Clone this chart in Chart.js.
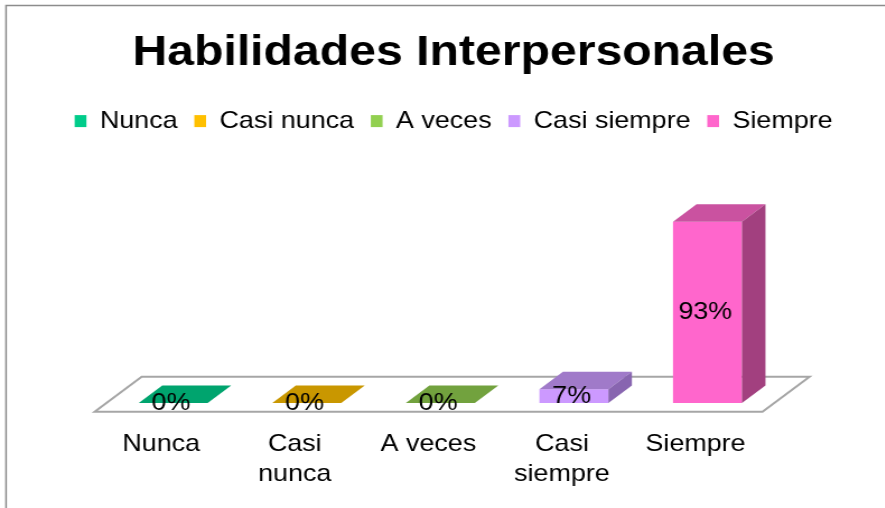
<!DOCTYPE html>
<html>
<head>
<meta charset="utf-8">
<title>Habilidades Interpersonales</title>
<script src="https://cdn.jsdelivr.net/npm/chart.js@4.4.1/dist/chart.umd.min.js"></script>
<style>
  html, body { margin: 0; padding: 0; background: #fff; }
  /* the original picture is stretched sideways a little, so do the same */
  #wrap { width: 790px; height: 508px; transform: scaleX(1.12); transform-origin: 0 0; }
</style>
</head>
<body>
<div id="wrap"><canvas id="chart"></canvas></div>
<script>
const categories = ['Nunca', 'Casi nunca', 'A veces', 'Casi siempre', 'Siempre'];
const tickLabels = [['Nunca'], ['Casi', 'nunca'], ['A veces'], ['Casi', 'siempre'], ['Siempre']];
const percentages = [0, 0, 0, 7, 93];

const frontColors = ['#00CC8A', '#FFC000', '#92D050', '#CC99FF', '#FF66CC'];
const topColors = ['#00A46E', '#C99700', '#72A23E', '#A07AC9', '#CA52A0'];
const sideColors = ['#008A5C', '#A67C00', '#5E8833', '#8865B0', '#A2407F'];

const FONT = "'Liberation Sans', Arial, sans-serif";
// 3d depth of a bar (floor is twice as deep)
const DX = 21;
const DY = -17.5;

function poly(ctx, pts) {
    ctx.beginPath();
    ctx.moveTo(pts[0][0], pts[0][1]);
    for (let k = 1; k < pts.length; k++) ctx.lineTo(pts[k][0], pts[k][1]);
    ctx.closePath();
    ctx.fill();
}

const frame = {
    id: 'frame',
    beforeDraw(chart) {
        const ctx = chart.ctx;
        ctx.save();
        ctx.fillStyle = '#fff';
        ctx.fillRect(0, 0, chart.width, chart.height);
        ctx.strokeStyle = '#8c8c8c';
        ctx.lineWidth = 1.5;
        ctx.strokeRect(5.4, 5.5, chart.width + 20, chart.height + 20);
        ctx.restore();
    }
};

// leave room between legend and plot
const legendSpacer = {
    id: 'legendSpacer',
    beforeInit(chart) {
        const fit = chart.legend.fit;
        chart.legend.fit = function () {
            fit.call(this);
            this.height += 65;
        };
    }
};

const bars3d = {
    id: 'bars3d',
    beforeDatasetsDraw(chart) {
        // floor plate
        const {ctx, chartArea} = chart;
        const fx = chartArea.left - DX / 2, fr = chartArea.right - DX / 2;
        const fy = chartArea.bottom - DY / 2;
        ctx.save();
        ctx.beginPath();
        ctx.moveTo(fx, fy);
        ctx.lineTo(fr, fy);
        ctx.lineTo(fr + 2 * DX, fy + 2 * DY);
        ctx.lineTo(fx + 2 * DX, fy + 2 * DY);
        ctx.closePath();
        ctx.fillStyle = '#fff';
        ctx.fill();
        ctx.strokeStyle = '#a6a6a6';
        ctx.lineWidth = 2;
        ctx.stroke();
        ctx.restore();
    },
    afterDatasetsDraw(chart) {
        const ctx = chart.ctx;
        const meta = chart.getDatasetMeta(0);
        ctx.save();
        meta.data.forEach((bar, i) => {
            const p = bar.getProps(['x', 'y', 'base', 'width'], true);
            const l = p.x - p.width / 2, r = p.x + p.width / 2;
            ctx.fillStyle = topColors[i];
            poly(ctx, [[l, p.y], [r, p.y], [r + DX, p.y + DY], [l + DX, p.y + DY]]);
            if (p.base - p.y > 0.5) {
                ctx.fillStyle = sideColors[i];
                poly(ctx, [[r, p.y], [r + DX, p.y + DY], [r + DX, p.base + DY], [r, p.base]]);
            }
        });
        ctx.fillStyle = '#000';
        ctx.font = '24px ' + FONT;
        ctx.textAlign = 'center';
        ctx.textBaseline = 'middle';
        meta.data.forEach((bar, i) => {
            const p = bar.getProps(['x', 'y', 'base'], true);
            ctx.fillText(percentages[i] + '%', p.x - 2, (p.y + p.base) / 2);
        });
        ctx.restore();
    }
};

new Chart(document.getElementById('chart'), {
    type: 'bar',
    data: {
        labels: tickLabels,
        datasets: [{
            label: 'Habilidades Interpersonales',
            data: percentages,
            backgroundColor: frontColors,
            borderWidth: 0,
            barPercentage: 0.516,
            categoryPercentage: 1.0
        }]
    },
    options: {
        responsive: true,
        maintainAspectRatio: false,
        animation: false,
        layout: {
            padding: { left: 20, right: 0, top: 0, bottom: 19 }
        },
        plugins: {
            title: {
                display: true,
                text: 'Habilidades Interpersonales',
                color: '#000',
                font: { family: FONT, size: 43, weight: 'bold', lineHeight: 1.2 },
                padding: { top: 27, bottom: 15.5 }
            },
            legend: {
                display: true,
                labels: {
                    color: '#000',
                    font: { family: FONT, size: 24 },
                    boxWidth: 10.5,
                    boxHeight: 12,
                    padding: 15,
                    generateLabels: () => categories.map((c, i) => ({
                        text: c,
                        fillStyle: frontColors[i],
                        strokeStyle: frontColors[i],
                        lineWidth: 0,
                        hidden: false,
                        index: i,
                        datasetIndex: 0
                    }))
                },
                onClick: null
            },
            tooltip: { enabled: false }
        },
        scales: {
            x: {
                grid: { display: false, drawTicks: false },
                border: { display: false },
                ticks: {
                    color: '#000',
                    font: { family: FONT, size: 24, lineHeight: 1.25 },
                    padding: 26,
                    labelOffset: -10.7,
                    maxRotation: 0,
                    autoSkip: false
                },
                afterFit: (s) => { s.height = 86; }
            },
            y: {
                position: 'left',
                min: 0,
                max: 100,
                grid: { display: false },
                border: { display: false },
                ticks: { display: false },
                afterFit: (s) => { s.width = 75; }
            },
            yRight: {
                type: 'linear',
                position: 'right',
                grid: { display: false },
                border: { display: false },
                ticks: { display: false },
                afterFit: (s) => { s.width = 98.7; }
            }
        }
    },
    plugins: [frame, legendSpacer, bars3d]
});
</script>
</body>
</html>
